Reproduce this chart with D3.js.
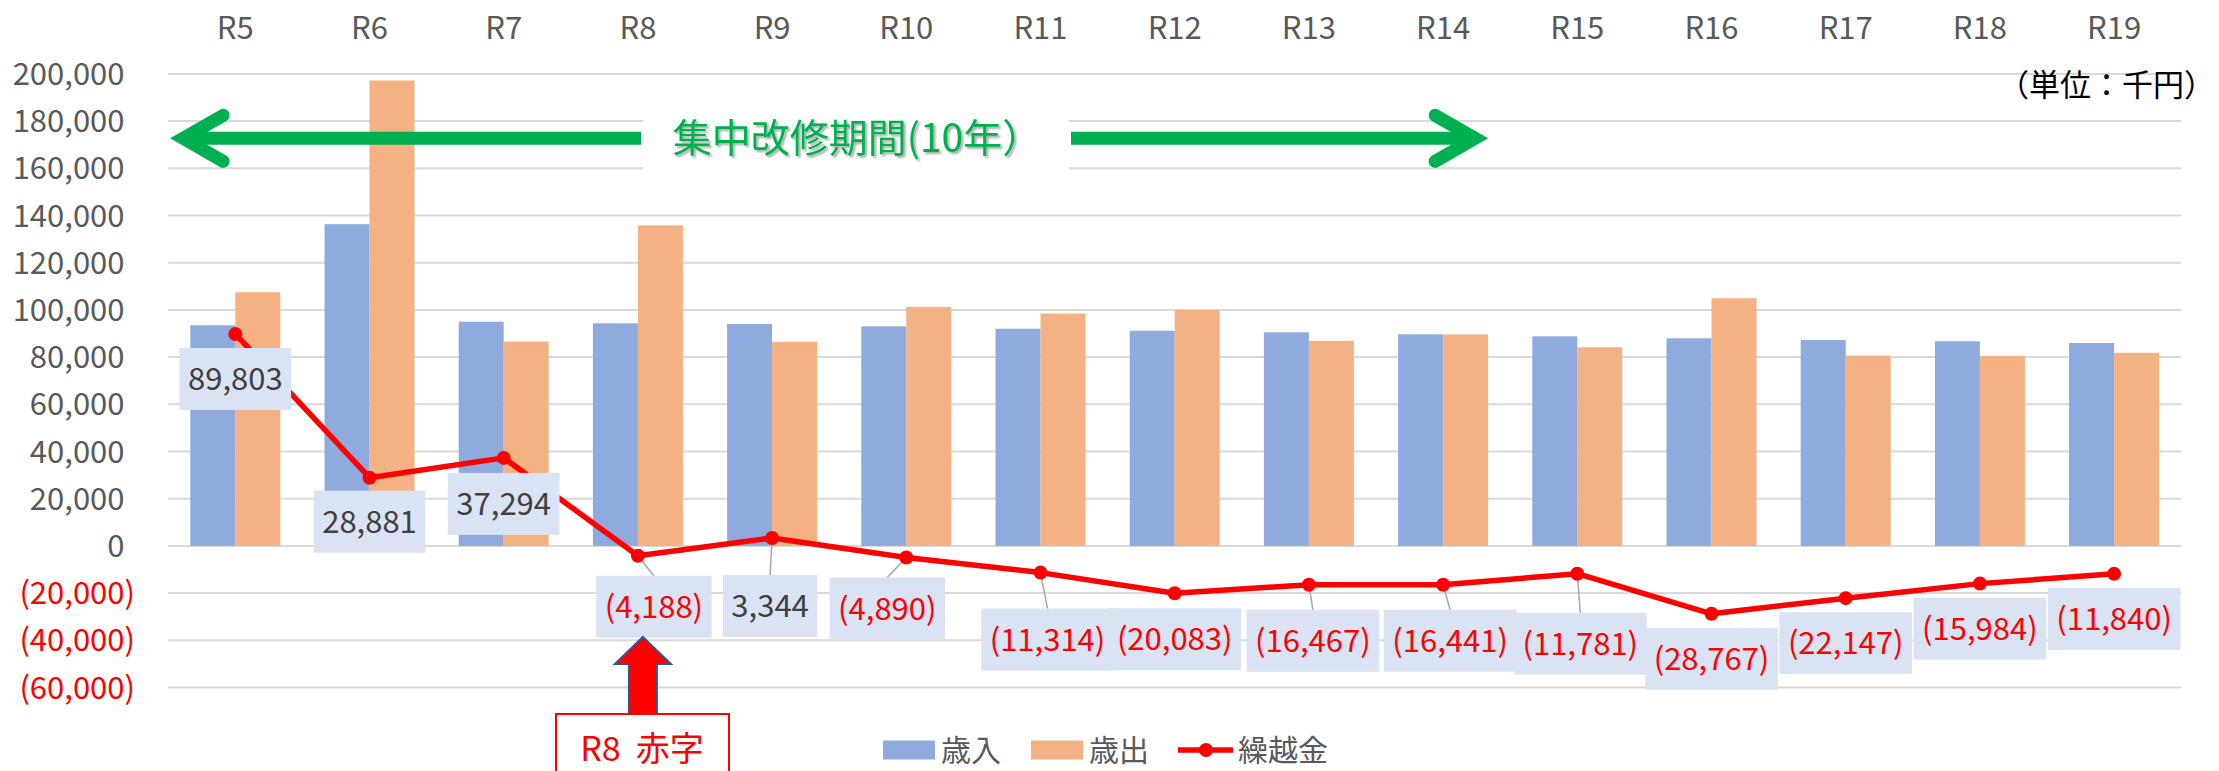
<!DOCTYPE html>
<html>
<head>
<meta charset="utf-8">
<script src="https://cdn.jsdelivr.net/npm/d3@7"></script>
<style>
  html, body { margin: 0; padding: 0; background: #fff; }
  svg { display: block; font-family: "Noto Sans CJK JP", "Noto Sans", sans-serif; }
</style>
</head>
<body>
<div id="chart"></div>
<script>
// data (千円)
const categories = ["R5", "R6", "R7", "R8", "R9", "R10", "R11", "R12", "R13", "R14", "R15", "R16", "R17", "R18", "R19"];
const income = [93470, 136300, 95000, 94320, 94020, 93040, 92030, 91180, 90500, 89650, 88800, 87960, 87240, 86690, 85970];
const expense = [107450, 197220, 86590, 135800, 86490, 101270, 98450, 99950, 86880, 89620, 84140, 104950, 80620, 80530, 81830];
const carryover = [89803, 28881, 37294, -4188, 3344, -4890, -11314, -20083, -16467, -16441, -11781, -28767, -22147, -15984, -11840];
const yTicks = [-60000, -40000, -20000, 0, 20000, 40000, 60000, 80000, 100000, 120000, 140000, 160000, 180000, 200000];
const seriesNames = ["歳入", "歳出", "繰越金"];

// where the data labels were dragged to, relative to their point (px)
const labelNudge = [[0, 45], [0, 44], [0, 46], [16, 51], [-2, 68], [-19, 51], [7, 67], [0, 46],
    [4, 56], [7, 56], [3, 70], [0, 45], [0, 45], [0, 45], [0, 45]];

const W = 2219, H = 771;
const margin = { top: 73.9, right: 37.8, bottom: 83.5, left: 168.2 };

const colors = { income: "#8FAADC", expense: "#F4B183", line: "#FF0000", grid: "#D9D9D9", axis: "#595959" };

const svg = d3.select("#chart").append("svg")
    .attr("width", W)
    .attr("height", H);

svg.append("rect").attr("width", W).attr("height", H).attr("fill", "#fff");

const x = d3.scaleBand()
    .domain(categories)
    .range([margin.left, W - margin.right])
    .paddingInner(0.3294)
    .paddingOuter(0.1647);

const xSub = d3.scaleBand()
    .domain(["income", "expense"])
    .range([0, x.bandwidth()]);

const y = d3.scaleLinear()
    .domain([-60000, 200000])
    .range([H - margin.bottom, margin.top]);

const fmt = d3.format(",");
const label = v => v < 0 ? `(${fmt(-v)})` : fmt(v);
const cx = d => x(d) + x.bandwidth() / 2;

// Gridlines
svg.append("g")
    .selectAll("line")
    .data(yTicks)
    .enter()
    .append("line")
    .attr("x1", margin.left)
    .attr("x2", W - margin.right)
    .attr("y1", d => y(d))
    .attr("y2", d => y(d))
    .attr("stroke", colors.grid)
    .attr("stroke-width", 2);

// Y axis labels (Excel style: positives keep a hidden ")" so digits line up)
const yLab = svg.append("g")
    .selectAll("text")
    .data(yTicks)
    .enter()
    .append("text")
    .attr("x", 135)
    .attr("y", d => y(d))
    .attr("dy", "0.36em")
    .attr("text-anchor", "end")
    .style("font-size", "31px")
    .attr("fill", d => d < 0 ? "#FF0000" : colors.axis);
yLab.append("tspan").text(d => label(d));
yLab.filter(d => d >= 0).append("tspan").attr("fill-opacity", 0).text(")");

// Category labels on top
svg.append("g")
    .selectAll("text")
    .data(categories)
    .enter()
    .append("text")
    .attr("x", d => cx(d))
    .attr("y", 39)
    .attr("text-anchor", "middle")
    .style("font-size", "31px")
    .attr("fill", colors.axis)
    .text(d => d);

// Bars
const groups = svg.append("g")
    .selectAll("g")
    .data(categories)
    .enter()
    .append("g")
    .attr("transform", d => `translate(${x(d)},0)`);

groups.append("rect")
    .attr("x", xSub("income"))
    .attr("width", xSub.bandwidth())
    .attr("y", (d, i) => y(income[i]))
    .attr("height", (d, i) => y(0) - y(income[i]))
    .attr("fill", colors.income);

groups.append("rect")
    .attr("x", xSub("expense"))
    .attr("width", xSub.bandwidth())
    .attr("y", (d, i) => y(expense[i]))
    .attr("height", (d, i) => y(0) - y(expense[i]))
    .attr("fill", colors.expense);

// Green period arrow (集中改修期間)
const arrowY = 138.3;
const leftTip = x.range()[0] + 15;
const rightTip = cx("R14") + 32;
const green = "#00B050";
const ann = svg.append("g");
ann.append("line").attr("x1", leftTip + 6).attr("x2", 641).attr("y1", arrowY).attr("y2", arrowY)
    .attr("stroke", green).attr("stroke-width", 13);
ann.append("line").attr("x1", 1071).attr("x2", rightTip - 6).attr("y1", arrowY).attr("y2", arrowY)
    .attr("stroke", green).attr("stroke-width", 13);
ann.append("path")
    .attr("d", `M${leftTip + 40},${arrowY - 23}L${leftTip},${arrowY}L${leftTip + 40},${arrowY + 23}`)
    .attr("fill", "none").attr("stroke", green).attr("stroke-width", 13)
    .attr("stroke-linecap", "round").attr("stroke-linejoin", "miter");
ann.append("path")
    .attr("d", `M${rightTip - 40},${arrowY - 23}L${rightTip},${arrowY}L${rightTip - 40},${arrowY + 23}`)
    .attr("fill", "none").attr("stroke", green).attr("stroke-width", 13)
    .attr("stroke-linecap", "round").attr("stroke-linejoin", "miter");
ann.append("rect").attr("x", 643).attr("y", 110).attr("width", 426).attr("height", 64).attr("fill", "#fff");

const defs = svg.append("defs");
defs.append("filter").attr("id", "shadow").attr("x", "-10%").attr("y", "-30%").attr("width", "120%").attr("height", "160%")
    .append("feDropShadow").attr("dx", 2).attr("dy", 2).attr("stdDeviation", 1.2)
    .attr("flood-color", "#000").attr("flood-opacity", 0.35);

ann.append("text")
    .attr("x", 857)
    .attr("y", arrowY)
    .attr("dy", "0.36em")
    .attr("text-anchor", "middle")
    .style("font-size", "39px")
    .attr("fill", green)
    .attr("filter", "url(#shadow)")
    .text("集中改修期間(10年）");

// Unit
svg.append("text")
    .attr("x", 2215)
    .attr("y", 96)
    .attr("text-anchor", "end")
    .style("font-size", "31px")
    .attr("fill", "#000")
    .text("（単位：千円）");

// Carry-over line
const pts = categories.map((c, i) => [cx(c), y(carryover[i])]);

const labG = svg.append("g");
const leaderG = labG.append("g");

svg.append("path")
    .datum(pts)
    .attr("d", d3.line())
    .attr("fill", "none")
    .attr("stroke", colors.line)
    .attr("stroke-width", 5.5)
    .attr("stroke-linejoin", "round");

svg.append("g")
    .selectAll("circle")
    .data(pts)
    .enter()
    .append("circle")
    .attr("cx", d => d[0])
    .attr("cy", d => d[1])
    .attr("r", 7)
    .attr("fill", colors.line);

// Data labels
const boxG = svg.append("g");
categories.forEach((c, i) => {
    const [px, py] = pts[i];
    const bx = px + labelNudge[i][0], by = py + labelNudge[i][1];
    const g = boxG.append("g");
    const rect = g.append("rect").attr("fill", "#DAE3F3");
    const t = g.append("text")
        .attr("x", bx)
        .attr("y", by)
        .attr("dy", "0.36em")
        .attr("text-anchor", "middle")
        .style("font-size", "31px")
        .attr("fill", carryover[i] < 0 ? "#FF0000" : "#404040")
        .text(label(carryover[i]));
    const tw = t.node().getComputedTextLength() + 17;
    rect.attr("x", bx - tw / 2).attr("y", by - 31).attr("width", tw).attr("height", 62);
    if (labelNudge[i][1] >= 50) {
        leaderG.append("line")
            .attr("x1", px).attr("y1", py)
            .attr("x2", bx).attr("y2", by - 31)
            .attr("stroke", "#A6A6A6")
            .attr("stroke-width", 1.5);
    }
});
// leaders sit above bars but below the line
svg.node().insertBefore(labG.node(), svg.select("path[stroke='#FF0000']").node());

// R8 deficit callout
const ax = cx("R8") + 5;
svg.append("path")
    .attr("d", `M${ax},637L${ax + 28},664L${ax + 14},664L${ax + 14},714L${ax - 14},714L${ax - 14},664L${ax - 28},664Z`)
    .attr("fill", "#FF0000")
    .attr("stroke", "#2F5597")
    .attr("stroke-width", 2);
svg.append("rect")
    .attr("x", 556).attr("y", 714).attr("width", 173).attr("height", 70)
    .attr("fill", "#fff").attr("stroke", "#FF0000").attr("stroke-width", 2);
svg.append("text")
    .attr("x", 642).attr("y", 761)
    .attr("text-anchor", "middle")
    .style("font-size", "34px")
    .attr("fill", "#FF0000")
    .attr("xml:space", "preserve")
    .text("R8  赤字");

// Legend
const legend = svg.append("g").attr("transform", "translate(883,750)");
legend.append("rect").attr("x", 0).attr("y", -9.5).attr("width", 52).attr("height", 19).attr("fill", colors.income);
legend.append("text").attr("x", 58).attr("dy", "0.36em").style("font-size", "30px").attr("fill", colors.axis).text(seriesNames[0]);
legend.append("rect").attr("x", 148).attr("y", -9.5).attr("width", 52).attr("height", 19).attr("fill", colors.expense);
legend.append("text").attr("x", 206).attr("dy", "0.36em").style("font-size", "30px").attr("fill", colors.axis).text(seriesNames[1]);
legend.append("line").attr("x1", 295).attr("x2", 350).attr("stroke", colors.line).attr("stroke-width", 5.5);
legend.append("circle").attr("cx", 323).attr("r", 7).attr("fill", colors.line);
legend.append("text").attr("x", 355).attr("dy", "0.36em").style("font-size", "30px").attr("fill", colors.axis).text(seriesNames[2]);
</script>
</body>
</html>
